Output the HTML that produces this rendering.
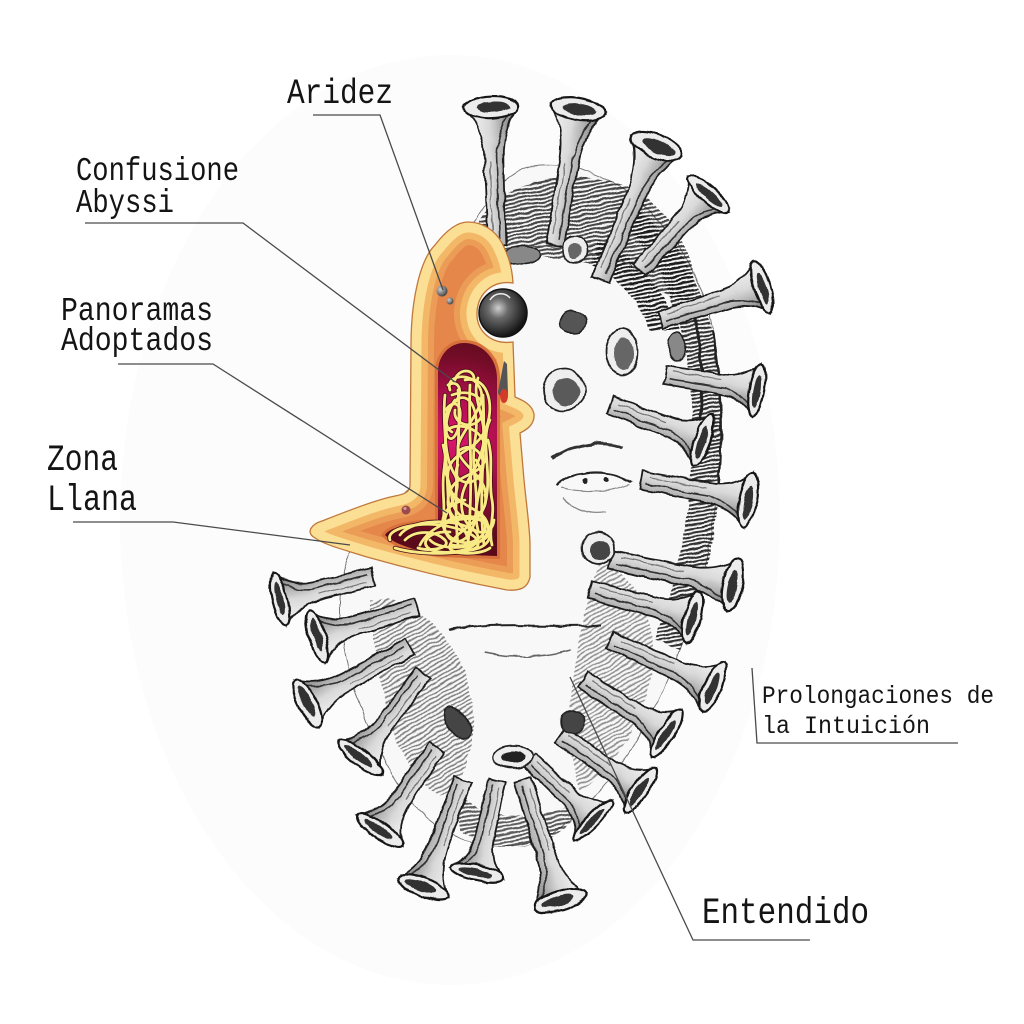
<!DOCTYPE html>
<html><head><meta charset="utf-8"><style>
html,body{margin:0;padding:0;background:#fff;}
svg{display:block;}
text{font-family:"Liberation Mono","DejaVu Sans Mono",monospace;fill:#141414;}
</style></head><body>
<svg width="1024" height="1024" viewBox="0 0 1024 1024" xmlns="http://www.w3.org/2000/svg">
<defs>
  <filter id="rough" x="-5%" y="-5%" width="110%" height="110%">
    <feTurbulence type="fractalNoise" baseFrequency="0.06" numOctaves="2" seed="3" result="n"/>
    <feDisplacementMap in="SourceGraphic" in2="n" scale="5" xChannelSelector="R" yChannelSelector="G"/>
  </filter>
  <pattern id="hatch" width="4" height="4" patternUnits="userSpaceOnUse" patternTransform="rotate(80)">
    <line x1="1" y1="0" x2="1" y2="4" stroke="#1a1a1a" stroke-width="2.2"/>
  </pattern>
  <pattern id="hatchL" width="4" height="4" patternUnits="userSpaceOnUse" patternTransform="rotate(60)">
    <line x1="1" y1="0" x2="1" y2="4" stroke="#444" stroke-width="1.5"/>
  </pattern>
  <linearGradient id="spg" x1="0" y1="0" x2="1" y2="0">
    <stop offset="0" stop-color="#f6f6f6"/>
    <stop offset="0.45" stop-color="#d9d9d9"/>
    <stop offset="1" stop-color="#6e6e6e"/>
  </linearGradient>
  <g id="sp">
    <path d="M-9,0 C-9,-30 -9,-55 -10,-68 C-12,-84 -20,-94 -27,-100 L27,-100 C20,-94 12,-84 10,-68 C9,-55 9,-30 9,0 Z" fill="url(#spg)" stroke="#1e1e1e" stroke-width="1.8" vector-effect="non-scaling-stroke"/>
    <path d="M3,-5 L3,-65 C5,-80 12,-90 19,-98" fill="none" stroke="#333" stroke-width="1.6" vector-effect="non-scaling-stroke"/>
    <path d="M-4,-8 L-4,-60" fill="none" stroke="#777" stroke-width="1.2" vector-effect="non-scaling-stroke"/>
    <ellipse cx="0" cy="-100" rx="27" ry="8" fill="#ececec" stroke="#161616" stroke-width="2.2" vector-effect="non-scaling-stroke"/>
    <ellipse cx="2" cy="-100" rx="17" ry="4" fill="#333"/>
  </g>
  <radialGradient id="cav" cx="455" cy="440" r="110" gradientUnits="userSpaceOnUse">
    <stop offset="0" stop-color="#dc1470"/>
    <stop offset="0.35" stop-color="#b41052"/>
    <stop offset="0.75" stop-color="#740c28"/>
    <stop offset="1" stop-color="#5a0a1a"/>
  </radialGradient>
  <radialGradient id="ball" cx="0.4" cy="0.4" r="0.6">
    <stop offset="0" stop-color="#cfcfcf"/>
    <stop offset="0.35" stop-color="#6a6a6a"/>
    <stop offset="1" stop-color="#141414"/>
  </radialGradient>
  <radialGradient id="peb" cx="0.35" cy="0.35" r="0.65">
    <stop offset="0" stop-color="#cfcfcf"/>
    <stop offset="1" stop-color="#4a4a4a"/>
  </radialGradient>
  <path id="cut" d="M468,222 C482,222 495,230 502,243 C508,255 512,266 513,283 C492,280 478,294 477,312 C476,330 490,345 513,342 L515,397 C522,400 532,404 534,414 C535,425 526,430 520,433 L524,480 C527,510 530,530 530,545 L530,577 C528,588 520,591 507,590 C470,583 420,572 367,557 C345,550 325,545 315,538 C305,532 312,524 322,521 C345,512 375,500 395,496 C405,494 410,492 410,485 L411,345 C411,300 420,260 435,245 C445,232 456,222 468,222 Z"/>
  <clipPath id="cutclip"><use href="#cut"/></clipPath>
  <g id="yarn">
    <path d="M450,390 C445,375 470,372 478,385 C490,400 470,420 460,440 C450,460 480,470 485,490 C492,520 455,530 450,545 C445,555 480,556 490,548"/>
    <path d="M465,380 C490,375 495,410 485,430 C475,455 445,450 448,480 C450,510 490,505 488,530 C486,550 440,552 430,540"/>
    <path d="M455,400 C440,420 445,460 455,475 C465,495 440,510 445,530 C450,548 470,545 475,520 C480,490 470,470 475,440 C480,410 470,395 460,398"/>
    <path d="M478,378 C470,400 490,420 482,450 C476,475 458,485 462,510 C466,535 492,540 494,520"/>
    <path d="M447,430 C460,420 488,430 486,455 C484,480 450,470 448,500 C446,520 470,525 468,545"/>
    <path d="M390,540 C385,528 420,522 440,525 C460,528 480,535 478,545 C475,555 420,556 395,548"/>
    <path d="M400,535 C410,520 450,518 470,528 C490,538 470,555 440,552 C415,549 425,530 450,532"/>
    <path d="M420,545 C430,525 460,515 480,520 C495,525 495,548 470,550"/>
    <path d="M455,380 C458,368 475,368 474,380"/>
    <path d="M452,395 C470,388 488,398 482,415 C476,432 452,425 455,410"/>
    <path d="M460,450 C475,440 490,460 480,475 C470,490 450,480 458,465"/>
    <path d="M444,470 C455,490 448,505 460,515 C470,525 490,510 485,495"/>
    <path d="M465,500 C440,505 435,530 455,540 C475,550 495,530 480,515"/>
    <path d="M470,385 C468,430 474,470 468,545"/>
    <path d="M458,390 C462,440 452,490 458,545"/>
    <path d="M483,395 C486,450 478,500 484,545"/>
    <path d="M446,410 C452,400 462,402 460,418 C458,440 448,445 446,430"/>
    <path d="M490,420 C480,440 492,470 486,500"/>
    <path d="M440,525 C455,515 475,512 488,525 C496,540 470,548 452,545"/>
    <path d="M443,445 C450,470 445,500 452,520"/>
    <path d="M476,460 C490,480 470,500 478,530"/>
    <path d="M445,395 C442,420 448,440 444,470 C441,490 446,505 443,525"/>
    <path d="M448,385 C460,378 465,395 452,405 C444,412 444,428 452,432"/>
    <path d="M488,440 C494,460 488,480 492,500 C495,515 488,530 492,545"/>
    <path d="M405,540 C415,530 435,530 445,540 C452,548 430,552 418,548"/>
  </g>
</defs>

<rect width="1024" height="1024" fill="#fff"/>
<ellipse cx="450" cy="520" rx="330" ry="465" fill="#fcfcfc"/>

<!-- VIRUS SKETCH -->
<g filter="url(#rough)">
  <!-- body -->
  <path d="M540,165 C630,160 700,250 715,340 C730,440 715,560 680,650 C650,730 600,810 540,840 C480,860 420,830 390,770 C350,700 330,620 345,565 C355,530 395,510 414,480 L418,300 C428,262 448,240 470,228 C490,195 510,168 540,165 Z" fill="#f8f8f8" stroke="#777" stroke-width="1"/>
  <!-- shading hatch -->
  <path d="M478,225 C495,175 600,160 650,200 C690,235 700,280 690,305 C650,290 600,262 560,258 C530,256 500,258 478,262 Z" fill="url(#hatch)" opacity="0.8"/>
  <path d="M640,212 C700,255 725,340 722,440 C720,540 700,600 680,650 L655,640 C676,580 692,520 692,440 C692,350 676,275 626,228 Z" fill="url(#hatch)" opacity="0.9"/>
  <path d="M600,240 C640,260 670,300 680,330 L650,330 C640,300 620,280 590,265 Z" fill="url(#hatch)"/>
  <path d="M370,600 C410,590 460,640 470,690 C480,740 465,790 440,795 C405,780 380,720 370,600 Z" fill="url(#hatchL)" opacity="0.7"/>
  <path d="M455,790 C480,820 540,825 580,800 C570,850 500,860 460,830 Z" fill="url(#hatch)" opacity="0.7"/>
  <path d="M600,560 C640,580 660,620 650,680 C640,730 610,770 580,790 C560,740 570,650 600,560 Z" fill="url(#hatchL)" opacity="0.6"/>
  <path d="M690,300 C700,330 705,380 700,420" fill="none" stroke="#222" stroke-width="3"/>
  <path d="M712,330 C722,380 724,440 717,500" fill="none" stroke="#222" stroke-width="2.5"/>
  <path d="M500,250 C540,240 600,250 640,270" fill="none" stroke="#555" stroke-width="1"/>

  <!-- upper spikes -->
  <use href="#sp" transform="translate(497,245) rotate(-2.2) scale(1,1.38)"/>
  <use href="#sp" transform="translate(555,245) rotate(9.6) scale(1,1.38)"/>
  <use href="#sp" transform="translate(600,280) rotate(22.9) scale(1,1.45)"/>
  <use href="#sp" transform="translate(640,270) rotate(41.8) scale(1,1.02)"/>
  <use href="#sp" transform="translate(660,320) rotate(72.1) scale(1,1.07)"/>
  <use href="#sp" transform="translate(665,375) rotate(99.3) scale(1,0.93)"/>
  <use href="#sp" transform="translate(610,405) rotate(110.6) scale(1,0.99)"/>
  <use href="#sp" transform="translate(640,480) rotate(100.5) scale(1,1.10)"/>
  <!-- right lower spikes -->
  <use href="#sp" transform="translate(610,560) rotate(101.6) scale(1,1.25)"/>
  <use href="#sp" transform="translate(590,590) rotate(104.7) scale(1,1.06)"/>
  <use href="#sp" transform="translate(610,640) rotate(114.5) scale(1,1.13)"/>
  <use href="#sp" transform="translate(583,680) rotate(122.2) scale(1,0.99)"/>
  <use href="#sp" transform="translate(560,735) rotate(124.5) scale(1,0.97)"/>
  <use href="#sp" transform="translate(530,760) rotate(133.6) scale(1,0.87)"/>
  <!-- left spikes -->
  <use href="#sp" transform="translate(373,577) rotate(-103.9) scale(1,0.96)"/>
  <use href="#sp" transform="translate(417,607) rotate(-106.7) scale(1,1.04)"/>
  <use href="#sp" transform="translate(410,647) rotate(-118.5) scale(1,1.17)"/>
  <use href="#sp" transform="translate(423,673) rotate(-143.1) scale(1,1.05)"/>
  <use href="#sp" transform="translate(437,747) rotate(-145.5) scale(1,1.01)"/>
  <!-- bottom spikes -->
  <use href="#sp" transform="translate(463,780) rotate(-159.5) scale(1,1.14)"/>
  <use href="#sp" transform="translate(497,780) rotate(-167.9) scale(1,0.95)"/>
  <use href="#sp" transform="translate(523,780) rotate(162.9) scale(1,1.26)"/>

  <!-- front-facing spikes -->
  <ellipse cx="523" cy="255" rx="18" ry="9" fill="#888" stroke="#222" stroke-width="1.6"/>
  <ellipse cx="575" cy="250" rx="13" ry="14" fill="#eee" stroke="#222" stroke-width="1.6"/>
  <ellipse cx="575" cy="252" rx="7" ry="8" fill="#666"/>
  <ellipse cx="573" cy="322" rx="14" ry="11" fill="#555" stroke="#222" stroke-width="1.6"/>
  <circle cx="564" cy="390" r="21" fill="#eee" stroke="#222" stroke-width="1.8"/>
  <circle cx="566" cy="392" r="14" fill="#5a5a5a"/>
  <ellipse cx="622" cy="352" rx="16" ry="23" fill="#eee" stroke="#222" stroke-width="1.8"/>
  <ellipse cx="624" cy="354" rx="10" ry="16" fill="#666"/>
  <ellipse cx="677" cy="347" rx="8" ry="14" fill="#888" stroke="#222" stroke-width="1.5"/>
  <circle cx="598" cy="548" r="16" fill="#eee" stroke="#222" stroke-width="1.8"/>
  <circle cx="600" cy="550" r="10" fill="#444"/>
  <ellipse cx="457" cy="723" rx="10" ry="18" transform="rotate(-40 457 723)" fill="#444" stroke="#222" stroke-width="1.6"/>
  <ellipse cx="513" cy="757" rx="20" ry="11" fill="#eee" stroke="#222" stroke-width="1.8"/>
  <ellipse cx="513" cy="757" rx="12" ry="6" fill="#222"/>
  <circle cx="573" cy="722" r="12" fill="#444" stroke="#222" stroke-width="1.5"/>

  <!-- face -->
  <path d="M552,458 C575,443 605,440 622,448" fill="none" stroke="#333" stroke-width="3"/>
  <path d="M555,485 C575,470 610,468 632,482" fill="none" stroke="#222" stroke-width="2.2"/>
  <path d="M560,488 C585,494 610,492 630,484" fill="none" stroke="#888" stroke-width="1.2"/>
  <circle cx="585" cy="481" r="2.5" fill="#222"/>
  <circle cx="606" cy="480" r="2.5" fill="#222"/>
  <path d="M563,498 C575,510 590,515 605,512" fill="none" stroke="#888" stroke-width="1.2"/>
  <path d="M450,630 C490,622 560,628 602,625" fill="none" stroke="#222" stroke-width="2"/>
  <path d="M485,652 C510,658 545,658 570,650" fill="none" stroke="#666" stroke-width="1.5"/>
</g>

<!-- CUTAWAY -->
<g>
  <use href="#cut" fill="#e5874b"/>
  <g clip-path="url(#cutclip)" fill="none">
    <use href="#cut" stroke="#eb9c56" stroke-width="46"/>
    <use href="#cut" stroke="#f3b867" stroke-width="34"/>
    <use href="#cut" stroke="#fadf95" stroke-width="21"/>
  </g>
  <use href="#cut" fill="none" stroke="#c0773a" stroke-width="1.3"/>
  <path d="M438,522 L438,372 C438,355 450,343 464,343 C482,343 497,358 497,378 L497,556 L440,554 C420,552 395,545 385,535 C390,527 410,523 438,522 Z" fill="#d8703c" stroke="#d8703c" stroke-width="6"/>
  <path d="M438,522 L438,372 C438,355 450,343 464,343 C482,343 497,358 497,378 L497,556 L440,554 C420,552 395,545 385,535 C390,527 410,523 438,522 Z" fill="url(#cav)"/>
  <!-- yarn -->
  <use href="#yarn" fill="none" stroke="#4a0c18" stroke-width="4.4" stroke-linecap="round"/>
  <use href="#yarn" fill="none" stroke="#f8ea84" stroke-width="2.8" stroke-linecap="round"/>
  <!-- sphere -->
  <circle cx="503" cy="313" r="24" fill="url(#ball)" stroke="#111" stroke-width="1.5"/>
  <path d="M490,300 C495,292 505,292 510,298" fill="none" stroke="#eee" stroke-width="1.5"/>
  <!-- pebbles & details -->
  <circle cx="442" cy="291" r="5.5" fill="url(#peb)"/>
  <circle cx="450" cy="301" r="3.5" fill="url(#peb)"/>
  <circle cx="406" cy="510" r="4.5" fill="#9a4a4e"/>
  <circle cx="405" cy="508.5" r="1.5" fill="#d9a0a0"/>
  <path d="M504,361 L498,392 C499,398 506,400 508,394 L507,364 Z" fill="#555"/>
  <ellipse cx="504" cy="396" rx="4" ry="7" fill="#d23a2a"/>
</g>

<!-- LEADER LINES -->
<g fill="none" stroke="#4a4a4a" stroke-width="1.3">
  <polyline points="313,115 380,115 443,290"/>
  <polyline points="85,223 243,223 455,382"/>
  <polyline points="118,364 213,364 447,513"/>
  <polyline points="73,522 173,522 350,545"/>
  <polyline points="752,668 757,743 958,743"/>
  <polyline points="570,677 693,940 810,940"/>
</g>

<!-- LABELS -->
<text transform="translate(287,103) scale(1,1.2)" font-size="29" textLength="106" lengthAdjust="spacingAndGlyphs">Aridez</text>
<text transform="translate(76,180) scale(1,1.24)" font-size="27" textLength="163" lengthAdjust="spacingAndGlyphs">Confusione</text>
<text transform="translate(76,212) scale(1,1.24)" font-size="27" textLength="98" lengthAdjust="spacingAndGlyphs">Abyssi</text>
<text transform="translate(61,320) scale(1,1.22)" font-size="27.5" textLength="152" lengthAdjust="spacingAndGlyphs">Panoramas</text>
<text transform="translate(61,350) scale(1,1.22)" font-size="27.5" textLength="152" lengthAdjust="spacingAndGlyphs">Adoptados</text>
<text transform="translate(47,470) scale(1,1.25)" font-size="29.5" textLength="71" lengthAdjust="spacingAndGlyphs">Zona</text>
<text transform="translate(47,510) scale(1,1.25)" font-size="29.5" textLength="90" lengthAdjust="spacingAndGlyphs">Llana</text>
<text transform="translate(762,703) scale(1,1.1)" font-size="22.5" textLength="232" lengthAdjust="spacingAndGlyphs">Prolongaciones de</text>
<text transform="translate(762,733) scale(1,1.1)" font-size="22.5" textLength="168" lengthAdjust="spacingAndGlyphs">la Intuición</text>
<text transform="translate(702,923) scale(1,1.22)" font-size="30.5" textLength="167" lengthAdjust="spacingAndGlyphs">Entendido</text>
</svg>
</body></html>
